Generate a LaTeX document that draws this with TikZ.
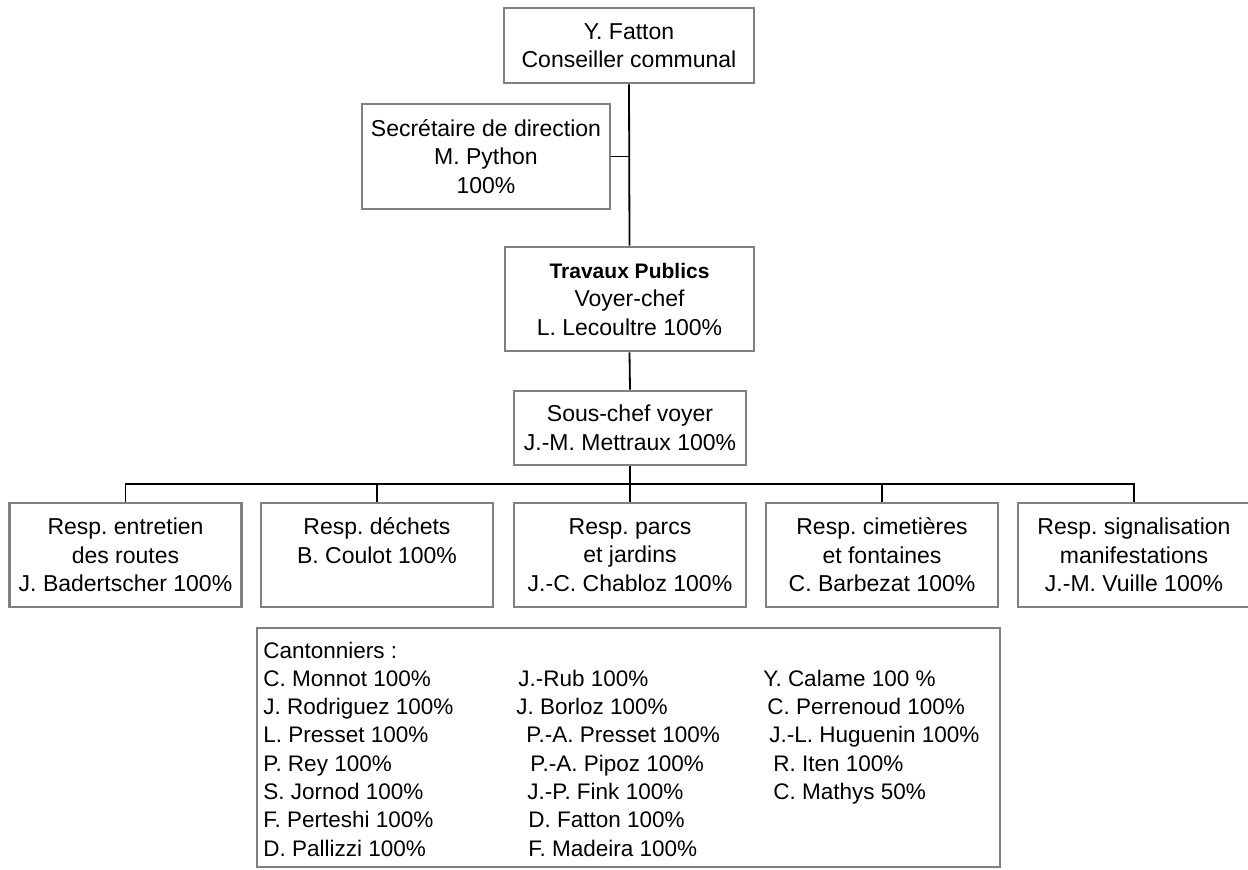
\documentclass[tikz,border=0pt]{standalone}
\usepackage{fontspec}
\setmainfont{Liberation Sans}
\frenchspacing
\definecolor{boxgray}{RGB}{128,128,128}

\begin{document}
\begin{tikzpicture}[x=0.5pt, y=-0.5pt,
    box/.style={draw=boxgray, line width=1.4pt, align=center, inner sep=0pt, font=\fontsize{11.5}{14.25}\selectfont},
    resp/.style={box, minimum width=116pt, minimum height=52pt},
    staff/.style={anchor=base west, inner sep=0pt, font=\fontsize{11.25}{14}\selectfont},
    link/.style={line width=0.9pt}]
    \useasboundingbox (0,0) rectangle (1248,869);
    \node[box, minimum width=125pt, minimum height=37.5pt] (fatton) at (629, 45.5) {Y. Fatton\\Conseiller communal};
    \node[box, minimum width=124pt, minimum height=52.5pt] (secr) at (486, 156.5) {Secrétaire de direction\\M. Python\\100\%};
    \node[box, minimum width=124.5pt, minimum height=52pt] (tp) at (629.5, 299) {{\fontsize{10.5}{14.25}\selectfont\bfseries Travaux Publics}\\Voyer-chef\\L. Lecoultre 100\%};
    \node[box, minimum width=116pt, minimum height=37pt] (souschef) at (630, 428) {Sous-chef voyer\\J.-M. Mettraux 100\%};
    \node[resp] (r1) at (125.5, 555) {Resp. entretien\\des routes\\J. Badertscher 100\%};
    \node[resp] (r2) at (377, 555) {Resp. déchets\\B. Coulot 100\%\\~};
    \node[resp] (r3) at (630, 555) {Resp. parcs\\et jardins\\J.-C. Chabloz 100\%};
    \node[resp] (r4) at (882, 555) {Resp. cimetières\\et fontaines\\C. Barbezat 100\%};
    \node[resp] (r5) at (1134, 555) {Resp. signalisation\\manifestations\\J.-M. Vuille 100\%};
    \node[box, minimum width=371.5pt, minimum height=119.5pt] (cant) at (628.5, 747.5) {};
    \foreach \r/\x/\who in {0/263/Cantonniers :, 1/263/C. Monnot 100\%, 2/263/J. Rodriguez 100\%,
        3/263/L. Presset 100\%, 4/263/P. Rey 100\%, 5/263/S. Jornod 100\%, 6/263/F. Perteshi 100\%,
        7/263/D. Pallizzi 100\%, 1/518/J.-Rub 100\%, 2/516/J. Borloz 100\%, 3/526/P.-A. Presset 100\%,
        4/530/P.-A. Pipoz 100\%, 5/527/J.-P. Fink 100\%, 6/528/D. Fatton 100\%, 7/528/F. Madeira 100\%,
        1/763/Y. Calame 100 \%, 2/767/C. Perrenoud 100\%, 3/769/J.-L. Huguenin 100\%,
        4/773/R. Iten 100\%, 5/773/C. Mathys 50\%}
        \node[staff] (cant-\r-\x) at (\x, 658+28.3*\r) {\who};
    \coordinate (bus) at (630, 484);
    \draw[link] (fatton.south) -- (tp.north);
    \draw[link] (secr.east) -- (fatton.south |- secr.east);
    \draw[link] (tp.south) -- (souschef.north);
    \draw[link] (souschef.south) -- (souschef.south |- bus);
    \draw[link] (r1.north) |- (bus -| r5.north) -- (r5.north);
    \foreach \i in {2,3,4}
        \draw[link] (r\i.north) -- (r\i.north |- bus);
\end{tikzpicture}
\end{document}
